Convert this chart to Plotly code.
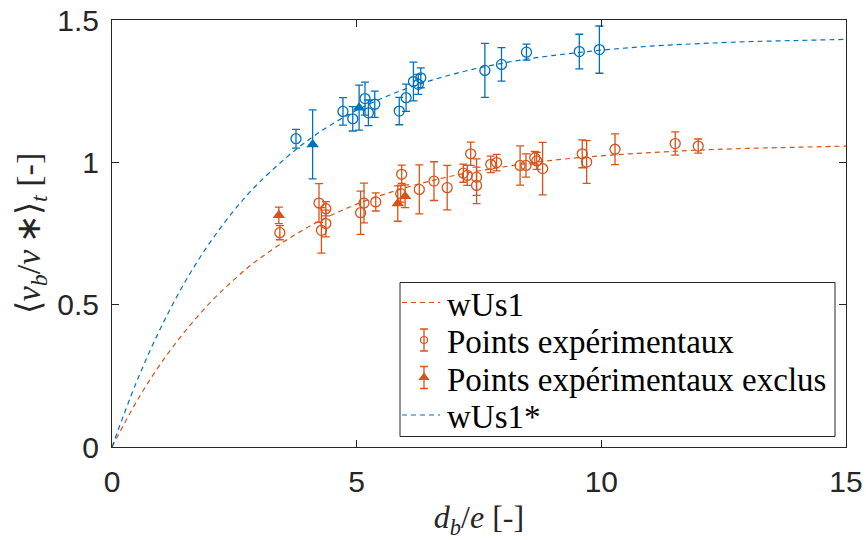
import plotly.graph_objects as go

# ---- model curves (sampled) ----
curve_x = [0, 0.5, 1, 1.5, 2, 2.5, 3, 4, 5, 6, 7, 8, 9, 10, 11, 12, 13, 14, 15]
wus1_y = [0, 0.159, 0.294, 0.408, 0.506, 0.589, 0.660, 0.772, 0.853, 0.911, 0.954,
          0.984, 1.007, 1.023, 1.034, 1.043, 1.049, 1.053, 1.057]
wus1s_y = [0, 0.228, 0.420, 0.582, 0.718, 0.832, 0.928, 1.077, 1.183, 1.258, 1.311,
           1.349, 1.375, 1.394, 1.408, 1.417, 1.424, 1.428, 1.432]

# ---- experimental points, wUs1 (orange) ----
or_x = [3.43, 4.23, 4.37, 4.37, 4.28, 5.08, 5.15, 5.39, 5.92, 5.90, 6.28, 6.58, 6.85,
        7.33, 7.18, 7.26, 7.45, 7.45, 7.74, 7.86, 8.34, 8.46, 8.64, 8.68, 8.80,
        9.61, 9.70, 10.28, 11.51, 11.98]
or_y = [0.753, 0.857, 0.837, 0.785, 0.761, 0.823, 0.857, 0.861, 0.958, 0.890, 0.905,
        0.934, 0.911, 1.030, 0.962, 0.954, 0.948, 0.919, 0.993, 0.999, 0.989, 0.989,
        1.016, 1.005, 0.978, 1.030, 1.001, 1.046, 1.066, 1.057]
or_err = [0.025, 0.068, 0.025, 0.047, 0.080, 0.076, 0.070, 0.032, 0.032, 0.030, 0.086,
          0.068, 0.078, 0.041, 0.032, 0.035, 0.064, 0.064, 0.029, 0.029, 0.069, 0.041,
          0.022, 0.030, 0.092, 0.049, 0.075, 0.054, 0.041, 0.025]

or_ex_x = [3.41, 5.84, 5.99]
or_ex_y = [0.814, 0.855, 0.881]
or_ex_err = [0.029, 0.062, 0.040]

# ---- experimental points, wUs1* (blue) ----
bl_x = [3.76, 4.72, 4.92, 5.17, 5.24, 5.37, 5.87, 6.01, 6.16, 6.26, 6.31,
        7.62, 7.96, 8.47, 9.55, 9.96]
bl_y = [1.083, 1.179, 1.153, 1.224, 1.174, 1.204, 1.180, 1.227, 1.284, 1.274, 1.297,
        1.323, 1.344, 1.387, 1.389, 1.396]
bl_err = [0.033, 0.048, 0.043, 0.058, 0.045, 0.046, 0.048, 0.048, 0.068, 0.035, 0.035,
          0.095, 0.059, 0.028, 0.061, 0.083]

bl_ex_x = [4.10, 5.05]
bl_ex_y = [1.063, 1.192]
bl_ex_err = [0.121, 0.079]

legend_labels = ["wUs1", "Points expérimentaux", "Points expérimentaux exclus", "wUs1*"]

ORANGE = "#D95319"
BLUE = "#0072BD"
AX = "#262626"
DASH = "5px,4px"
SANS = "Liberation Sans"
SERIF = "Liberation Serif"

# plot area in pixels (for placing the hand-built legend box)
W, H = 866, 540
L, R, T, B = 112, 20, 20, 93
PW, PH = W - L - R, H - T - B


def px(x):
    return (x - L) / PW


def py(y):
    return (H - B - y) / PH


fig = go.Figure()


def err(vals, color, width=4):
    return dict(type="data", array=vals, visible=True, color=color,
                thickness=1.3, width=width)


fig.add_trace(go.Scatter(
    x=curve_x, y=wus1_y, mode="lines", name=legend_labels[0],
    line=dict(color=ORANGE, width=1.2, dash=DASH, shape="spline")))
fig.add_trace(go.Scatter(
    x=or_x, y=or_y, mode="markers", name=legend_labels[1],
    marker=dict(symbol="circle-open", size=10, color=ORANGE, line=dict(width=1.3)),
    error_y=err(or_err, ORANGE)))
fig.add_trace(go.Scatter(
    x=or_ex_x, y=or_ex_y, mode="markers", name=legend_labels[2],
    marker=dict(symbol="triangle-up", size=11, color=ORANGE),
    error_y=err(or_ex_err, ORANGE)))
fig.add_trace(go.Scatter(
    x=curve_x, y=wus1s_y, mode="lines", name=legend_labels[3],
    line=dict(color=BLUE, width=1.2, dash=DASH, shape="spline")))
fig.add_trace(go.Scatter(
    x=bl_x, y=bl_y, mode="markers",
    marker=dict(symbol="circle-open", size=10, color=BLUE, line=dict(width=1.3)),
    error_y=err(bl_err, BLUE)))
fig.add_trace(go.Scatter(
    x=bl_ex_x, y=bl_ex_y, mode="markers",
    marker=dict(symbol="triangle-up", size=11, color=BLUE),
    error_y=err(bl_ex_err, BLUE)))

# ---- legend box (compact rows, drawn on an overlay axis in plot fractions) ----
box_l, box_r, box_t, box_b = 400, 835, 282.5, 436.5
row_y = [302.5, 340, 377.5, 415]
sym_x0, sym_x1, sym_xc = 402, 440, 424
text_x = 445

fig.add_shape(type="rect", xref="paper", yref="paper",
              x0=px(box_l), x1=px(box_r), y0=py(box_b), y1=py(box_t),
              line=dict(color=AX, width=1), fillcolor="rgba(0,0,0,0)", layer="above")
for ry, col in ((row_y[0], ORANGE), (row_y[3], BLUE)):
    fig.add_shape(type="line", xref="paper", yref="paper",
                  x0=px(sym_x0), x1=px(sym_x1), y0=py(ry), y1=py(ry),
                  line=dict(color=col, width=1.2, dash=DASH), layer="above")

bar = 11 / PH
fig.add_trace(go.Scatter(
    x=[px(sym_xc)], y=[py(row_y[1])], xaxis="x2", yaxis="y2", mode="markers",
    marker=dict(symbol="circle-open", size=7, color=ORANGE, line=dict(width=1.2)),
    error_y=err([bar], ORANGE, width=4)))
fig.add_trace(go.Scatter(
    x=[px(sym_xc)], y=[py(row_y[2])], xaxis="x2", yaxis="y2", mode="markers",
    marker=dict(symbol="triangle-up", size=10, color=ORANGE),
    error_y=err([bar], ORANGE, width=4)))

for i, lab in enumerate(legend_labels):
    fig.add_annotation(xref="paper", yref="paper", x=px(text_x), y=py(row_y[i] + 2),
                       xanchor="left", yanchor="middle", showarrow=False, text=lab,
                       font=dict(family=SERIF, size=33, color="black"))

axis_common = dict(
    showgrid=False, zeroline=False, showline=True, linecolor=AX, linewidth=1,
    mirror="ticks", ticks="inside", ticklen=7, tickwidth=1, tickcolor=AX,
    automargin=False,
    tickfont=dict(family=SANS, size=30, color=AX),
)

fig.update_layout(
    width=W, height=H,
    margin=dict(l=L, r=R, t=T, b=B),
    paper_bgcolor="white", plot_bgcolor="white",
    showlegend=False,
    xaxis=dict(range=[0, 15], tickvals=[0, 5, 10, 15], ticktext=["0", "5", "10", "15"],
               title=dict(text="<i>d</i><sub><i>b</i></sub>/<i>e</i> [-]",
                          font=dict(family=SERIF, size=32, color=AX), standoff=15),
               ticklabelstandoff=8, **axis_common),
    yaxis=dict(range=[0, 1.5], tickvals=[0, 0.5, 1, 1.5],
               ticktext=["0", "0.5", "1", "1.5"],
               title=dict(text="⟨<i>v</i><sub><i>b</i></sub>/<i>v</i>\u2009∗⟩<sub><i>t</i></sub> [-]",
                          font=dict(family=SERIF, size=34, color=AX), standoff=6),
               ticklabelstandoff=6, **axis_common),
    xaxis2=dict(overlaying="x", range=[0, 1], visible=False, fixedrange=True),
    yaxis2=dict(overlaying="y", range=[0, 1], visible=False, fixedrange=True),
)

fig.write_html("out.html")
